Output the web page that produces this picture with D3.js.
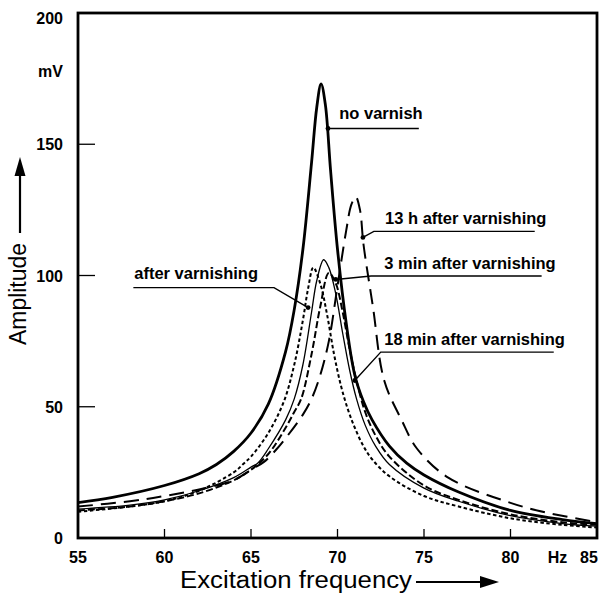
<!DOCTYPE html>
<html><head><meta charset="utf-8">
<script src="https://cdn.jsdelivr.net/npm/d3@7"></script>
<style>body{margin:0;background:#fff} svg{display:block}</style>
</head><body><svg id="c" width="610" height="601"></svg>
<script>
// ---- data ----
const xTicks = [55, 60, 65, 70, 75, 80, 85];
const yTicks = [0, 50, 100, 150, 200];

const freqNoVarnish = [55, 57, 60, 62, 63, 64, 65, 66, 67, 67.5, 68, 68.5, 68.8, 69.05, 69.3, 69.6, 70, 70.5, 71, 71.5, 72, 73, 74, 75, 77, 80, 83, 85];
const ampNoVarnish  = [13.5, 15.5, 20, 24.5, 28, 33, 40, 51, 71, 87, 110, 143, 164, 173, 165, 140, 110, 82, 62, 52, 45, 35, 28.5, 24, 17.5, 10.5, 7, 5.5];

const freq13h = [55, 58, 60, 62, 64, 65, 65.75, 66.5, 67, 68, 68.5, 69, 69.5, 70, 70.5, 70.8, 71.05, 71.3, 71.5, 72.05, 72.7, 73.7, 74.6, 76.4, 80, 82, 85];
const amp13h  = [12, 14, 16, 18.5, 22, 26, 29, 34, 38, 47, 53, 62, 75, 96, 117, 127, 130, 125, 112, 88, 60, 45, 34, 23, 13.4, 9.8, 6];

const freq3min = [55, 58, 60, 62, 64, 65, 65.4, 66, 67, 67.5, 68, 68.5, 68.8, 69.2, 69.5, 69.9, 70.3, 70.7, 71.1, 71.6, 72.2, 73, 75, 77, 80, 83, 85];
const amp3min  = [11, 12.5, 14.5, 18, 23, 27, 28.6, 34, 45, 53, 66, 86, 98, 106, 103, 93, 78, 64, 53, 43, 35, 28, 19, 14, 8.5, 5.5, 4.5];

const freq18min = [55, 58, 60, 62, 64, 65, 66, 67, 67.5, 67.9, 68.5, 69, 69.5, 69.9, 70.3, 70.7, 71.1, 71.6, 72.2, 73, 75, 77, 80, 83, 85];
const amp18min  = [10.5, 12, 14, 17, 22, 26, 32, 42, 48, 53, 70, 88, 101, 97, 86, 72, 60, 48, 39, 31, 20, 14.5, 9, 6, 5];

const freqAfter = [55, 58, 60, 62, 64, 64.6, 65, 66, 66.9, 67.5, 68, 68.3, 68.6, 69, 69.4, 69.8, 70.2, 70.6, 71, 71.5, 72, 73, 75, 77, 80, 83, 85];
const ampAfter  = [10, 12, 14, 18, 25, 28.5, 31, 40, 52, 66, 83, 95, 103, 97, 85, 70, 58, 49, 42, 35, 30, 23.5, 16, 12, 7.5, 5, 4];

const seriesNames = ["no varnish", "13 h after varnishing", "3 min after varnishing", "18 min after varnishing", "after varnishing"];

// ---- layout ----
const svg = d3.select("#c");
const x = d3.scaleLinear().domain([55, 85]).range([78, 597]);
const y = d3.scaleLinear().domain([0, 200]).range([538, 13]);
const FONT = "'Liberation Sans', Arial, Helvetica, sans-serif";

const series = [
  {name: seriesNames[0], f: freqNoVarnish, a: ampNoVarnish, w: 2.8, dash: null},
  {name: seriesNames[1], f: freq13h, a: amp13h, w: 2.0, dash: "15,8"},
  {name: seriesNames[2], f: freq3min, a: amp3min, w: 1.3, dash: null},
  {name: seriesNames[3], f: freq18min, a: amp18min, w: 2.0, dash: "7,3"},
  {name: seriesNames[4], f: freqAfter, a: ampAfter, w: 2.0, dash: "3.5,2.5"}
];

svg.append("clipPath").attr("id", "plot").append("rect")
  .attr("x", x(55)).attr("y", y(200)).attr("width", x(85) - x(55)).attr("height", y(0) - y(200));

const line = d3.line().x(d => x(d[0])).y(d => y(d[1])).curve(d3.curveCatmullRom.alpha(0.5));

const g = svg.append("g").attr("clip-path", "url(#plot)");
series.forEach(s => {
  g.append("path")
    .datum(s.f.map((f, i) => [f, s.a[i]]))
    .attr("d", line)
    .attr("fill", "none")
    .attr("stroke", "#000")
    .attr("stroke-width", s.w)
    .attr("stroke-dasharray", s.dash)
    .attr("stroke-linejoin", "round");
});

// ---- frame ----
svg.append("rect")
  .attr("x", x(55)).attr("y", y(200)).attr("width", x(85) - x(55)).attr("height", y(0) - y(200))
  .attr("fill", "none").attr("stroke", "#000").attr("stroke-width", 2.8);

// x ticks (inward)
svg.selectAll(".xt").data(xTicks.slice(1, -1)).enter().append("line")
  .attr("x1", d => x(d)).attr("x2", d => x(d)).attr("y1", y(0)).attr("y2", y(0) - 9)
  .attr("stroke", "#000").attr("stroke-width", 1.3);
// y ticks (inward)
svg.selectAll(".yt").data(yTicks.slice(1, -1)).enter().append("line")
  .attr("x1", x(55)).attr("x2", x(55) + 17).attr("y1", d => y(d)).attr("y2", d => y(d))
  .attr("stroke", "#000").attr("stroke-width", 1.3);

// tick labels
svg.selectAll(".xl").data(xTicks).enter().append("text")
  .attr("x", d => d === 85 ? x(d) - 8 : x(d)).attr("y", y(0) + 25)
  .attr("text-anchor", "middle").attr("font-family", FONT).attr("font-weight", "bold")
  .attr("font-size", 16).text(d => d);
svg.append("text").attr("x", x(80) + 47).attr("y", y(0) + 25)
  .attr("text-anchor", "middle").attr("font-family", FONT).attr("font-weight", "bold")
  .attr("font-size", 16).text("Hz");

svg.selectAll(".yl").data(yTicks).enter().append("text")
  .attr("x", x(55) - 15).attr("y", d => d === 200 ? y(d) + 11 : y(d) + 6)
  .attr("text-anchor", "end").attr("font-family", FONT).attr("font-weight", "bold")
  .attr("font-size", 16).text(d => d);
svg.append("text").attr("x", x(55) - 15).attr("y", y(200) + 64)
  .attr("text-anchor", "end").attr("font-family", FONT).attr("font-weight", "bold")
  .attr("font-size", 16).text("mV");

// ---- axis titles ----
svg.append("text")
  .attr("transform", "translate(26,294) rotate(-90)")
  .attr("text-anchor", "middle").attr("font-family", FONT).attr("font-size", 23)
  .attr("textLength", 102).attr("lengthAdjust", "spacingAndGlyphs")
  .text("Amplitude");
// up arrow
svg.append("line").attr("x1", 20).attr("x2", 20).attr("y1", 233).attr("y2", 172)
  .attr("stroke", "#000").attr("stroke-width", 2.2);
svg.append("path").attr("d", "M20,157 L14.5,176 L25.5,176 Z").attr("fill", "#000");

svg.append("text")
  .attr("x", 180).attr("y", 588)
  .attr("font-family", FONT).attr("font-size", 23)
  .attr("textLength", 232).attr("lengthAdjust", "spacingAndGlyphs")
  .text("Excitation frequency");
svg.append("line").attr("x1", 416).attr("x2", 484).attr("y1", 582).attr("y2", 582)
  .attr("stroke", "#000").attr("stroke-width", 2.2);
svg.append("path").attr("d", "M499,582 L480,576 L480,588 Z").attr("fill", "#000");

// ---- annotations (anchor on curve, elbow, end of underline, text start; in data units) ----
const annotations = [
  {label: seriesNames[0], dot: [69.45, 156], elbow: [69.45, 156], end: [74.7, 156], text: [70.1, 159.5]},
  {label: seriesNames[1], dot: [71.47, 114.5], elbow: [72.1, 116.8], end: [81.4, 116.8], text: [72.75, 119.5]},
  {label: seriesNames[2], dot: [69.9, 98.5], elbow: [71.94, 99.8], end: [81.8, 99.8], text: [72.7, 102.5]},
  {label: seriesNames[3], dot: [71.0, 60], elbow: [72.5, 70.8], end: [82.5, 70.8], text: [72.7, 73.5]},
  {label: seriesNames[4], dot: [68.3, 87.8], elbow: [66.33, 95.4], end: [58.2, 95.4], text: [58.25, 98.5]}
];
annotations.forEach(a => {
  svg.append("polyline")
    .attr("points", [a.dot, a.elbow, a.end].map(p => x(p[0]) + "," + y(p[1])).join(" "))
    .attr("fill", "none").attr("stroke", "#000").attr("stroke-width", 1.4);
  svg.append("circle").attr("cx", x(a.dot[0])).attr("cy", y(a.dot[1])).attr("r", 2.4).attr("fill", "#000");
  svg.append("text").attr("x", x(a.text[0])).attr("y", y(a.text[1]))
    .attr("font-family", FONT).attr("font-weight", "bold").attr("font-size", 16.5)
    .text(a.label);
});
</script>
</body></html>
